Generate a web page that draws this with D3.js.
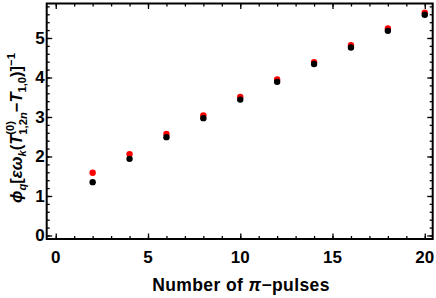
<!DOCTYPE html>
<html>
<head>
<meta charset="utf-8">
<script src="https://cdn.jsdelivr.net/npm/d3@7/dist/d3.min.js"></script>
<style>
html,body{margin:0;padding:0;background:#fff;}
svg{display:block;}
text{font-family:"Liberation Sans",Arial,sans-serif;font-weight:bold;}
</style>
</head>
<body>
<svg id="chart" width="436" height="298"></svg>
<script>
const pulses = [2, 4, 6, 8, 10, 12, 14, 16, 18, 20];
const blackValues = [1.35, 1.94, 2.49, 2.97, 3.44, 3.89, 4.34, 4.76, 5.18, 5.59];
const redValues = [1.59, 2.06, 2.57, 3.04, 3.51, 3.95, 4.39, 4.82, 5.24, 5.64];
const xTickLabels = [0, 5, 10, 15, 20];
const yTickLabels = [0, 1, 2, 3, 4, 5];
const xMinorTicks = d3.range(0, 21, 1);
const yMinorTicks = d3.range(0, 5.9, 0.2);

const svg = d3.select("#chart");
const L = 46.7, R = 432.7, T = 3.5, B = 239;
const x = d3.scaleLinear().domain([-0.49, 20.43]).range([L, R]);
const y = d3.scaleLinear().domain([-0.089, 5.873]).range([B, T]);

const fs = 17;
function styleAxis(g){
  g.select(".domain").remove();
  g.selectAll("line").attr("stroke","#000").attr("stroke-width",1.3);
}
[[B, d3.axisTop], [T, d3.axisBottom]].forEach(([pos, ax]) => {
  svg.append("g").attr("transform",`translate(0,${pos})`)
    .call(ax(x).tickValues(xMinorTicks).tickSize(3).tickFormat("")).call(styleAxis);
  svg.append("g").attr("transform",`translate(0,${pos})`)
    .call(ax(x).tickValues(xTickLabels).tickSize(5.5).tickFormat("")).call(styleAxis);
});
[[L, d3.axisRight], [R, d3.axisLeft]].forEach(([pos, ax]) => {
  svg.append("g").attr("transform",`translate(${pos},0)`)
    .call(ax(y).tickValues(yMinorTicks).tickSize(3).tickFormat("")).call(styleAxis);
  svg.append("g").attr("transform",`translate(${pos},0)`)
    .call(ax(y).tickValues(yTickLabels).tickSize(5.5).tickFormat("")).call(styleAxis);
});

svg.append("rect").attr("x",L).attr("y",T).attr("width",R-L).attr("height",B-T)
  .attr("fill","none").attr("stroke","#000").attr("stroke-width",2);

svg.append("g").selectAll("text").data(xTickLabels).join("text")
  .attr("x",d=>x(d)).attr("y",B+24).attr("text-anchor","middle")
  .attr("font-size",fs).text(d=>d);
svg.append("g").selectAll("text").data(yTickLabels).join("text")
  .attr("x",L-2).attr("y",d=>y(d)+6).attr("text-anchor","end")
  .attr("font-size",fs).text(d=>d);

svg.append("g").selectAll("circle").data(pulses).join("circle")
  .attr("cx",d=>x(d)).attr("cy",(d,i)=>y(redValues[i])).attr("r",3.2).attr("fill","#ff0000");
svg.append("g").selectAll("circle").data(pulses).join("circle")
  .attr("cx",d=>x(d)).attr("cy",(d,i)=>y(blackValues[i])).attr("r",3.2).attr("fill","#000");

const xl = svg.append("text").attr("x",241).attr("y",291).attr("text-anchor","middle")
  .attr("font-size",17.5).attr("letter-spacing",0.4);
xl.append("tspan").text("Number of ");
xl.append("tspan").attr("font-style","italic").text("π");
xl.append("tspan").text("−pulses");

const yfs = 16.5;
const yl = svg.append("text").attr("font-size",yfs);
function add(t, opts={}){
  const s = yl.append("tspan").text(t);
  if(opts.italic) s.attr("font-style","italic");
  if(opts.size) s.attr("font-size",opts.size);
  if(opts.dy!==undefined) s.attr("dy",opts.dy);
  if(opts.dx!==undefined) s.attr("dx",opts.dx);
  return s;
}
const sm = yfs*0.68;
add("ϕ",{italic:true});
add("q",{italic:true,size:sm,dy:4});
add("[",{dy:-4});
add("εω",{italic:true});
add("k",{italic:true,size:sm,dy:4});
add("(",{dy:-4});
add("T",{italic:true});
const sup = add("(0)",{size:sm,dy:-8});
const supLen = sup.node().getComputedTextLength();
add("1,2",{size:sm,dy:13,dx:-supLen});
add("n",{italic:true,size:sm});
add("−",{dy:-5});
add("T",{italic:true});
add("1,0",{size:sm,dy:4});
add(")]",{dy:-4});
add("−1",{size:sm,dy:-7});
const len = yl.node().getComputedTextLength();
yl.attr("transform",`translate(22,${(T+B)/2 + len/2}) rotate(-90)`);
</script>
</body>
</html>
